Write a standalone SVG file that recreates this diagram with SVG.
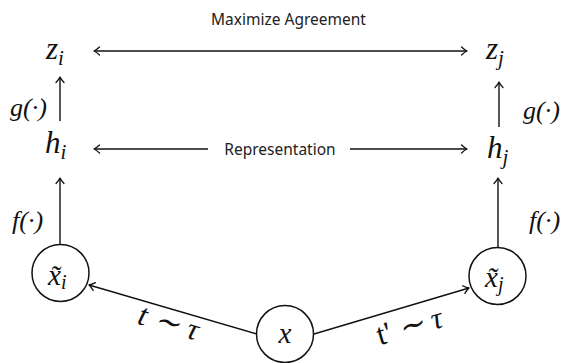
<svg xmlns="http://www.w3.org/2000/svg" width="566" height="363" viewBox="0 0 566 363">
<style>
.ln{stroke:#111;stroke-width:1.4;fill:none}
.tip{fill:none;stroke:#111;stroke-width:1.3;stroke-linecap:round;stroke-linejoin:round}
.node circle{fill:#fff;stroke:#111;stroke-width:1.5}
</style>
<defs>
<path id="ah" class="tip" d="M-5.5,-4 Q-2,-0.8 0,0 Q-2,0.8 -5.5,4"/>
</defs>
<rect width="566" height="363" fill="#fff"/>
<g id="z_i" font-family="Liberation Serif, serif" font-style="italic" fill="#111"><text x="46" y="59" font-size="31">z<tspan font-size="21" dy="6">i</tspan></text></g>
<g id="z_j" font-family="Liberation Serif, serif" font-style="italic" fill="#111"><text x="486" y="59" font-size="31">z<tspan font-size="21" dy="6">j</tspan></text></g>
<g id="h_i" font-family="Liberation Serif, serif" font-style="italic" fill="#111"><text x="45" y="153" font-size="31">h<tspan font-size="21" dy="6">i</tspan></text></g>
<g id="h_j" font-family="Liberation Serif, serif" font-style="italic" fill="#111"><text x="487" y="158" font-size="31">h<tspan font-size="21" dy="6">j</tspan></text></g>
<g id="xt_i" class="node" font-family="Liberation Serif, serif" font-style="italic" fill="#111"><circle cx="60.5" cy="273" r="28.5"/><text x="48" y="285" font-size="29">x̃<tspan font-size="20" dy="4">i</tspan></text></g>
<g id="x" class="node" font-family="Liberation Serif, serif" font-style="italic" fill="#111"><circle cx="285" cy="334" r="28.5"/><text x="285" y="343" text-anchor="middle" font-size="29">x</text></g>
<g id="xt_j" class="node" font-family="Liberation Serif, serif" font-style="italic" fill="#111"><circle cx="497.5" cy="276" r="28.5"/><text x="485" y="287" font-size="29">x̃<tspan font-size="20" dy="4">j</tspan></text></g>
<g id="connectors">
<line class="ln" x1="94" y1="51" x2="467" y2="51"/>
<use href="#ah" transform="translate(94,51) rotate(180)"/>
<use href="#ah" transform="translate(467,51)"/>
<line class="ln" x1="94" y1="149" x2="208" y2="149"/>
<use href="#ah" transform="translate(94,149) rotate(180)"/>
<line class="ln" x1="350" y1="149" x2="467" y2="149"/>
<use href="#ah" transform="translate(467,149)"/>
<line class="ln" x1="60" y1="121" x2="60" y2="77"/>
<use href="#ah" transform="translate(60,77) rotate(-90)"/>
<line class="ln" x1="499" y1="127" x2="499" y2="82"/>
<use href="#ah" transform="translate(499,82) rotate(-90)"/>
<line class="ln" x1="60" y1="245" x2="60" y2="178"/>
<use href="#ah" transform="translate(60,178) rotate(-90)"/>
<line class="ln" x1="498" y1="247" x2="498" y2="178"/>
<use href="#ah" transform="translate(498,178) rotate(-90)"/>
<line class="ln" x1="257" y1="334" x2="89" y2="285"/>
<use href="#ah" transform="translate(89,285) rotate(196.3)"/>
<line class="ln" x1="314" y1="334" x2="469" y2="288"/>
<use href="#ah" transform="translate(469,288) rotate(-16.5)"/>
<g font-family="Liberation Serif, serif" font-style="italic" fill="#111" font-size="26">
<text x="10" y="116">g(·)</text>
<text x="523" y="119">g(·)</text>
<text x="12" y="229">f(·)</text>
<text x="529" y="229">f(·)</text>
<text font-size="31" transform="translate(166,332) rotate(16)" text-anchor="middle">t<tspan dx="8">∼</tspan><tspan dx="8">τ</tspan></text>
<text font-size="31" transform="translate(412,336) rotate(-16)" text-anchor="middle"><tspan font-style="normal">t'</tspan><tspan dx="8">∼</tspan><tspan dx="8">τ</tspan></text>
</g>
<g font-family="Noto Sans, Open Sans, sans-serif" font-size="15.5" fill="#222">
<text x="288.5" y="25" text-anchor="middle">Maximize Agreement</text>
<text x="280" y="155" text-anchor="middle">Representation</text>
</g>
</g>
</svg>
